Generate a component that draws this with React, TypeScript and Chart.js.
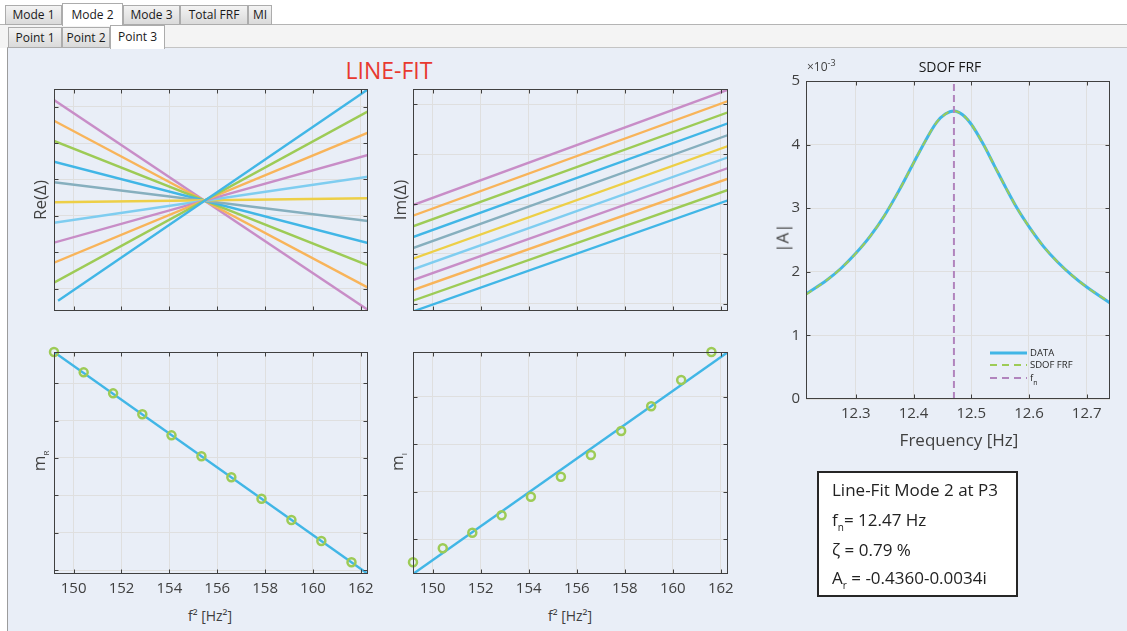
import React, { useEffect, useRef } from 'react';
import { Chart, registerables } from 'chart.js';
Chart.register(...registerables);

const FONT = '"Open Sans", "Noto Sans", "DejaVu Sans", sans-serif';

// ---------------- data ----------------
const palette = ['#41B6E6', '#9DCB56', '#F8B45A', '#C88DC7', '#7FCDF0', '#EDCF47', '#86AFBE'];

const fSqTicks = [150, 152, 154, 156, 158, 160, 162];
const reTicks = [0, 1, 2, 3, 4, 5];
const imTicks = [0, 1, 2, 3, 4];
const mRTicks = [0, 1, 2, 3, 4, 5];
const mITicks = [0, 1, 2, 3];
const freqTicks = [12.3, 12.4, 12.5, 12.6, 12.7];
const ampTicks = [0, 1, 2, 3, 4, 5];

// Re(Δ) lines (index 0 = lowest at the left)
const reLineStartX = [149.35, 149.18, 149.18, 149.18, 149.18, 149.18, 149.18, 149.18, 149.18, 149.18, 149.18];
const reLineStart = [-0.33, 0.165, 0.714, 1.264, 1.813, 2.374, 2.923, 3.489, 4.058, 4.615, 5.184];
const reLineEnd = [5.478, 4.874, 4.286, 3.673, 3.077, 2.484, 1.86, 1.255, 0.643, 0.027, -0.585];
// Im(Δ) lines
const imLineStart = [-0.155, 0.06, 0.275, 0.475, 0.69, 0.903, 1.117, 1.338, 1.553, 1.765, 1.98];
const imLineEnd = [2.074, 2.281, 2.508, 2.722, 2.937, 3.163, 3.384, 3.619, 3.84, 4.066, 4.293];
const lineStartX = 149.18;
const lineEndX = 162.3;

// slopes vs f²
const fSq = [149.18, 150.42, 151.65, 152.87, 154.09, 155.34, 156.59, 157.85, 159.1, 160.35, 161.61];
const mR = [5.837, 5.293, 4.731, 4.169, 3.606, 3.044, 2.482, 1.909, 1.339, 0.776, 0.206];
const mI = [-0.484, -0.189, 0.139, 0.505, 0.896, 1.317, 1.774, 2.279, 2.798, 3.352, 3.941];
const mRFitX = [149.18, 162.3];
const mRFitY = [5.837, -0.107];
const mIFitX = [149.18, 162.3];
const mIFitY = [-0.73, 3.94];

// SDOF FRF (|A| in units of 1e-3)
const freq = [12.2137, 12.25, 12.275, 12.3, 12.325, 12.35, 12.375, 12.4, 12.42, 12.44, 12.455, 12.47,
  12.485, 12.5, 12.52, 12.54, 12.56, 12.58, 12.6, 12.625, 12.65, 12.675, 12.7, 12.7404];
const ampData = [1.65, 1.87, 2.06, 2.29, 2.56, 2.89, 3.28, 3.71, 4.05, 4.35, 4.48, 4.53,
  4.47, 4.32, 4.02, 3.67, 3.32, 2.99, 2.71, 2.4, 2.15, 1.94, 1.76, 1.51];
const ampSdof = [1.64, 1.87, 2.06, 2.29, 2.56, 2.89, 3.28, 3.71, 4.05, 4.35, 4.48, 4.53,
  4.47, 4.32, 4.02, 3.67, 3.32, 2.99, 2.71, 2.4, 2.15, 1.94, 1.76, 1.52];
const fn = 12.47;
const legendLabels = ['DATA', 'SDOF FRF', 'f'];

const tabs1 = ['Mode 1', 'Mode 2', 'Mode 3', 'Total FRF', 'MI'];
const tabs2 = ['Point 1', 'Point 2', 'Point 3'];

// ---------------- styles ----------------
const C = {
  blue: '#41B6E6',
  green: '#9DCB56',
  fnPurple: '#B184BD',
  grid: '#DFDFDF',
  axis: '#404040',
};

const boxPlugin = {
  id: 'matlabBox',
  afterDraw(chart: any) {
    const { ctx, chartArea: a } = chart;
    const xs = chart.scales.x, ys = chart.scales.y;
    const L = Math.round(a.left) + 0.5, R = Math.round(a.right) - 0.5;
    const T = Math.round(a.top) + 0.5, B = Math.round(a.bottom) - 0.5;
    ctx.save();
    ctx.strokeStyle = C.axis;
    ctx.lineWidth = 1;
    ctx.setLineDash([]);
    ctx.strokeRect(L, T, R - L, B - T);
    const len = 4;
    ctx.beginPath();
    xs.ticks.forEach((t: any) => {
      const p = Math.round(xs.getPixelForValue(t.value)) + 0.5;
      if (p - L < 2 || R - p < 2) return;
      ctx.moveTo(p, B); ctx.lineTo(p, B - len);
      ctx.moveTo(p, T); ctx.lineTo(p, T + len);
    });
    ys.ticks.forEach((t: any) => {
      const p = Math.round(ys.getPixelForValue(t.value)) + 0.5;
      if (p - T < 2 || B - p < 2) return;
      ctx.moveTo(L, p); ctx.lineTo(L + len, p);
      ctx.moveTo(R, p); ctx.lineTo(R - len, p);
    });
    ctx.stroke();
    ctx.restore();
  },
};

const frfLegend = {
  id: 'frfLegend',
  afterDraw(chart: any) {
    const { ctx, chartArea: a } = chart;
    const styles = [
      { color: C.blue, dash: [] as number[], width: 3 },
      { color: C.green, dash: [7, 5], width: 2 },
      { color: C.fnPurple, dash: [7, 5], width: 2 },
    ];
    const rows = [46, 34, 21];
    legendLabels.forEach((label, i) => {
      const y = a.bottom - rows[i];
      const s = styles[i];
      ctx.save();
      ctx.strokeStyle = s.color;
      ctx.lineWidth = s.width;
      ctx.setLineDash(s.dash);
      ctx.beginPath();
      ctx.moveTo(a.right - 120, y);
      ctx.lineTo(a.right - 83, y);
      ctx.stroke();
      ctx.setLineDash([]);
      ctx.fillStyle = '#262626';
      ctx.font = `9.5px ${FONT}`;
      ctx.textBaseline = 'middle';
      ctx.textAlign = 'left';
      const tx = a.right - 80;
      ctx.fillText(label, tx, y);
      if (i === 2) {
        const w = ctx.measureText(label).width;
        ctx.font = `7px ${FONT}`;
        ctx.fillText('n', tx + w, y + 5);
      }
      ctx.restore();
    });
  },
};

type Ax = { min: number; max: number; ticks: number[]; labels?: boolean };
type Pad = { l: number; t: number; r: number; b: number };
type Box = { l: number; t: number; r: number; b: number };

function axis(a: Ax, which: 'x' | 'y', size: number) {
  return {
    type: 'linear',
    position: which === 'x' ? 'bottom' : 'left',
    min: a.min,
    max: a.max,
    afterBuildTicks: (s: any) => { s.ticks = a.ticks.map((v) => ({ value: v })); },
    afterFit: (s: any) => { if (which === 'x') s.height = size; else s.width = size; },
    grid: { color: C.grid, lineWidth: 1, drawTicks: false },
    border: { display: false },
    ticks: {
      display: !!a.labels,
      color: C.axis,
      font: { family: FONT, size: 15 },
      padding: 6,
      maxRotation: 0,
      autoSkip: false,
      callback: (v: any) => String(v),
    },
  };
}

function makeConfig(datasets: any[], pad: Pad, x: Ax, y: Ax, extra: any[] = []) {
  return {
    type: 'scatter',
    data: { datasets },
    options: {
      responsive: false,
      animation: false,
      devicePixelRatio: 1,
      events: [],
      layout: { padding: { left: 0, top: pad.t, right: pad.r, bottom: 0 } },
      plugins: { legend: { display: false }, tooltip: { enabled: false }, title: { display: false } },
      scales: { x: axis(x, 'x', pad.b), y: axis(y, 'y', pad.l) },
    },
    plugins: [boxPlugin, ...extra],
  };
}

function lineDs(pts: { x: number; y: number }[], color: string, width = 2.4, extra: any = {}) {
  return {
    data: pts,
    showLine: true,
    borderColor: color,
    backgroundColor: color,
    borderWidth: width,
    pointRadius: 0,
    ...extra,
  };
}

function ChartPanel({ box, pad, build }: { box: Box; pad: Pad; build: () => any }) {
  const ref = useRef<HTMLCanvasElement>(null);
  const w = box.r - box.l + pad.l + pad.r;
  const h = box.b - box.t + pad.t + pad.b;
  useEffect(() => {
    const chart = new Chart(ref.current as HTMLCanvasElement, build());
    return () => chart.destroy();
  }, []);
  return (
    <canvas
      ref={ref}
      width={w}
      height={h}
      style={{ position: 'absolute', left: box.l - pad.l, top: box.t - pad.t, width: w, height: h }}
    />
  );
}

const xAx: Ax = { min: 149.18, max: 162.3, ticks: fSqTicks };
const xAxL: Ax = { ...xAx, labels: true };

const buildRe = () =>
  makeConfig(
    reLineStart.map((v, i) =>
      lineDs([{ x: reLineStartX[i], y: v }, { x: lineEndX, y: reLineEnd[i] }], palette[i % palette.length])
    ),
    { l: 4, t: 4, r: 4, b: 4 },
    xAx,
    { min: -0.613, max: 5.486, ticks: reTicks }
  );

const buildIm = () =>
  makeConfig(
    imLineStart.map((v, i) =>
      lineDs([{ x: lineStartX, y: v }, { x: lineEndX, y: imLineEnd[i] }], palette[i % palette.length])
    ),
    { l: 4, t: 4, r: 4, b: 4 },
    xAx,
    { min: -0.146, max: 4.307, ticks: imTicks }
  );

const markerDs = (ys: number[]) => ({
  data: fSq.map((x, i) => ({ x, y: ys[i] })),
  showLine: false,
  pointRadius: 4,
  pointBorderWidth: 2.5,
  pointBorderColor: C.green,
  pointBackgroundColor: 'rgba(0,0,0,0)',
  clip: false,
});

const buildMR = () =>
  makeConfig(
    [
      markerDs(mR),
      lineDs(mRFitX.map((x, i) => ({ x, y: mRFitY[i] })), C.blue, 2.4),
    ],
    { l: 10, t: 8, r: 20, b: 30 },
    xAxL,
    { min: -0.107, max: 5.838, ticks: mRTicks }
  );

const buildMI = () =>
  makeConfig(
    [
      markerDs(mI),
      lineDs(mIFitX.map((x, i) => ({ x, y: mIFitY[i] })), C.blue, 2.4),
    ],
    { l: 10, t: 8, r: 20, b: 30 },
    xAxL,
    { min: -0.73, max: 3.94, ticks: mITicks }
  );

const buildFRF = () =>
  makeConfig(
    [
      lineDs([{ x: fn, y: 0 }, { x: fn, y: 5 }], C.fnPurple, 2, { borderDash: [7, 4] }),
      lineDs(freq.map((x, i) => ({ x, y: ampSdof[i] })), C.green, 2, { borderDash: [7, 5], cubicInterpolationMode: 'monotone' }),
      lineDs(freq.map((x, i) => ({ x, y: ampData[i] })), C.blue, 3, { cubicInterpolationMode: 'monotone' }),
    ],
    { l: 36, t: 12, r: 12, b: 30 },
    { min: 12.2137, max: 12.7404, ticks: freqTicks, labels: true },
    { min: 0, max: 5, ticks: ampTicks, labels: true },
    [frfLegend]
  );

function VLabel({ x, y, size = 17, children }: any) {
  return (
    <div
      style={{
        position: 'absolute', left: x, top: y, transform: 'translate(-50%, -50%) rotate(-90deg)',
        whiteSpace: 'nowrap', fontSize: size, color: C.axis, lineHeight: 1, fontFamily: FONT,
      }}
    >
      {children}
    </div>
  );
}

function HLabel({ x, y, size = 13, color = C.axis, children }: any) {
  return (
    <div
      style={{
        position: 'absolute', left: x, top: y, transform: 'translate(-50%, -50%)',
        whiteSpace: 'nowrap', fontSize: size, color, lineHeight: 1, fontFamily: FONT,
      }}
    >
      {children}
    </div>
  );
}

const tab1Edges = [5, 62, 123, 180, 248, 272];
const tab2Edges = [8, 62, 110, 165];

function Tab({ label, x0, x1, top, h, selected }: any) {
  return (
    <div
      style={{
        position: 'absolute', left: x0, top: selected ? top - 2 : top, width: x1 - x0,
        height: selected ? h + 3 : h, boxSizing: 'border-box',
        border: '1px solid #ACACAC', borderBottom: selected ? 'none' : '1px solid #ACACAC',
        background: selected ? '#FFFFFF' : 'linear-gradient(#F3F3F3, #DADADA)',
        fontSize: 12, color: '#1A1A1A', textAlign: 'center',
        lineHeight: (selected ? h + 1 : h - 2) + 'px', fontFamily: FONT, zIndex: selected ? 3 : 2,
      }}
    >
      {label}
    </div>
  );
}

export default function App() {
  return (
    <div style={{ position: 'absolute', left: 0, top: 0, width: 1127, height: 631, background: '#FFFFFF', overflow: 'hidden', fontFamily: FONT }}>
      {/* tab strips */}
      <div style={{ position: 'absolute', left: 0, top: 24, width: 1127, height: 24, background: '#F4F4F4', borderTop: '1px solid #B4B4B4', boxSizing: 'border-box' }} />
      {tabs1.map((t, i) => (
        <Tab key={t} label={t} x0={tab1Edges[i]} x1={tab1Edges[i + 1]} top={5} h={20} selected={i === 1} />
      ))}
      {tabs2.map((t, i) => (
        <Tab key={t} label={t} x0={tab2Edges[i]} x1={tab2Edges[i + 1]} top={27} h={21} selected={i === 2} />
      ))}
      {/* panel */}
      <div style={{ position: 'absolute', left: 7, top: 47, width: 1120, height: 584, background: '#E9EEF7', borderLeft: '1px solid #9C9C9C', borderTop: '1px solid #C4C4C4', boxSizing: 'border-box' }} />

      <HLabel x={389} y={70} size={23} color="#E8392F">LINE-FIT</HLabel>

      <ChartPanel box={{ l: 54, t: 89, r: 368, b: 311 }} pad={{ l: 4, t: 4, r: 4, b: 4 }} build={buildRe} />
      <ChartPanel box={{ l: 413, t: 89, r: 728, b: 311 }} pad={{ l: 4, t: 4, r: 4, b: 4 }} build={buildIm} />
      <ChartPanel box={{ l: 54, t: 352, r: 368, b: 574 }} pad={{ l: 10, t: 8, r: 20, b: 30 }} build={buildMR} />
      <ChartPanel box={{ l: 413, t: 352, r: 728, b: 574 }} pad={{ l: 10, t: 8, r: 20, b: 30 }} build={buildMI} />
      <ChartPanel box={{ l: 806, t: 78, r: 1110, b: 399 }} pad={{ l: 36, t: 12, r: 12, b: 30 }} build={buildFRF} />

      <VLabel x={39} y={200}>Re(Δ)</VLabel>
      <VLabel x={399} y={200}>Im(Δ)</VLabel>
      <VLabel x={38} y={461}>
        m<span style={{ fontSize: 8, position: 'relative', top: 4 }}>R</span>
      </VLabel>
      <VLabel x={396} y={462}>
        m<span style={{ fontSize: 8, position: 'relative', top: 4 }}>I</span>
      </VLabel>
      <HLabel x={210} y={616} size={14}>f² [Hz²]</HLabel>
      <HLabel x={570} y={616} size={14}>f² [Hz²]</HLabel>

      <HLabel x={950} y={67} size={14} color="#1A1A1A">SDOF FRF</HLabel>
      <div style={{ position: 'absolute', left: 807, top: 61, fontSize: 12, color: C.axis, lineHeight: 1, whiteSpace: 'nowrap' }}>
        ×10<span style={{ fontSize: 9, position: 'relative', top: -5 }}>-3</span>
      </div>
      <VLabel x={782} y={238}>|A|</VLabel>
      <HLabel x={959} y={439} size={17}>Frequency [Hz]</HLabel>

      {/* result box */}
      <div style={{ position: 'absolute', left: 817, top: 471, width: 201, height: 126, boxSizing: 'border-box', border: '2px solid #262626', background: '#FFFFFF', fontSize: 17, color: '#222222', lineHeight: '20px', whiteSpace: 'nowrap' }}>
        <div style={{ position: 'absolute', left: 13, top: 7 }}>Line-Fit Mode 2 at P3</div>
        <div style={{ position: 'absolute', left: 13, top: 37 }}>
          f<span style={{ fontSize: 10, position: 'relative', top: 5 }}>n</span>= 12.47 Hz
        </div>
        <div style={{ position: 'absolute', left: 13, top: 67 }}>ζ = 0.79 %</div>
        <div style={{ position: 'absolute', left: 13, top: 95 }}>
          A<span style={{ fontSize: 10, position: 'relative', top: 5 }}>r</span> = -0.4360-0.0034i
        </div>
      </div>
    </div>
  );
}
